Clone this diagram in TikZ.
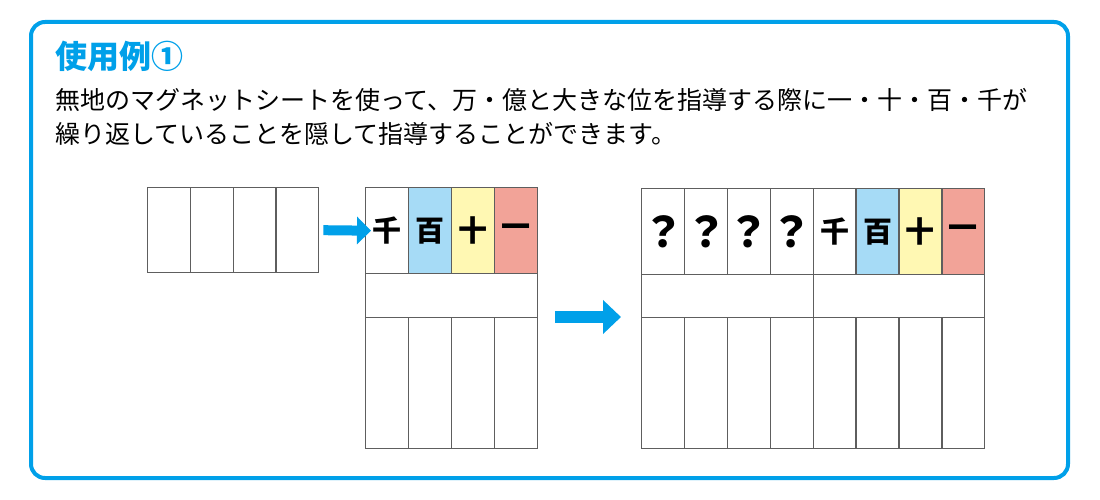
\documentclass[tikz,border=0pt]{standalone}
\usepackage{fontspec}
\setmainfont{Noto Sans CJK JP}
\usetikzlibrary{arrows.meta}
\definecolor{frameblue}{HTML}{00A0E9}
\definecolor{linegray}{HTML}{5E5E5E}
\definecolor{cellblue}{HTML}{A6DBF6}
\definecolor{cellyellow}{HTML}{FFF8B3}
\definecolor{cellpink}{HTML}{F2A398}
\begin{document}
\begin{tikzpicture}[x=1pt,y=-1pt,
  cellbox/.style={draw=linegray, line width=1.4pt, inner sep=0pt, anchor=north west,
    font=\bfseries\fontsize{29}{29}\selectfont},
  qbox/.style={cellbox, font=\bfseries\fontsize{42}{42}\selectfont},
  bluearrow/.style={draw=frameblue, line width=#1}]
\useasboundingbox (0,0) rectangle (1100,500);
% frame
\draw[frameblue, line width=4pt, rounded corners=14pt] (31,22) rectangle (1068,478);
% texts
\node[anchor=base west, inner sep=0pt, text=frameblue, font=\bfseries\fontsize{32}{32}\selectfont] (title) at (55,69) {使用例①};
\node[anchor=base west, inner sep=0pt, font=\fontsize{25}{25}\selectfont] (line1) at (55,109.5) {無地のマグネットシートを使って、万・億と大きな位を指導する際に一・十・百・千が};
\node[anchor=base west, inner sep=0pt, font=\fontsize{25}{25}\selectfont] (line2) at (55,143.5) {繰り返していることを隠して指導することができます。};
% left box
\foreach \i in {0,...,3}
  \node[cellbox, minimum width=42.75pt, minimum height=85pt] (l\i) at ({147+42.75*\i},187) {};
% middle table
\node[cellbox, minimum width=43pt, minimum height=86pt] (m0) at (365,187) {千};
\node[cellbox, fill=cellblue, minimum width=43pt, minimum height=86pt] (m1) at (408,187) {百};
\node[cellbox, fill=cellyellow, minimum width=43pt, minimum height=86pt] (m2) at (451,187) {十};
\node[cellbox, fill=cellpink, minimum width=43pt, minimum height=86pt] (m3) at (494,187) {一};
\node[cellbox, minimum width=172pt, minimum height=44pt] (mmid) at (365,273) {};
\foreach \i in {0,...,3}
  \node[cellbox, minimum width=43pt, minimum height=131pt] (mb\i) at ({365+43*\i},317) {};
% right table
\foreach \i in {0,...,3}
  \node[qbox, minimum width=42.875pt, minimum height=86pt] (r\i) at ({641+42.875*\i},188) {\makebox[0pt]{？}};
\node[cellbox, minimum width=42.875pt, minimum height=86pt] (r4) at (812.5,188) {千};
\node[cellbox, fill=cellblue, minimum width=42.875pt, minimum height=86pt] (r5) at (855.375,188) {百};
\node[cellbox, fill=cellyellow, minimum width=42.875pt, minimum height=86pt] (r6) at (898.25,188) {十};
\node[cellbox, fill=cellpink, minimum width=42.875pt, minimum height=86pt] (r7) at (941.125,188) {一};
\node[cellbox, minimum width=171.5pt, minimum height=43pt] (rmidA) at (641,274) {};
\node[cellbox, minimum width=171.5pt, minimum height=43pt] (rmidB) at (812.5,274) {};
\foreach \i in {0,...,7}
  \node[cellbox, minimum width=42.875pt, minimum height=131pt] (rb\i) at ({641+42.875*\i},317) {};
% arrows
\draw[bluearrow=10pt, -{Triangle[length=14pt,width=27pt]}, frameblue]
  ([xshift=4pt]l3.east) -- ([xshift=6pt]m0.west);
\draw[bluearrow=12pt, -{Triangle[length=18pt,width=33pt]}, frameblue]
  ([xshift=17pt]mb3.north east) -- ([xshift=-20pt]rb0.north west);
\end{tikzpicture}
\end{document}
